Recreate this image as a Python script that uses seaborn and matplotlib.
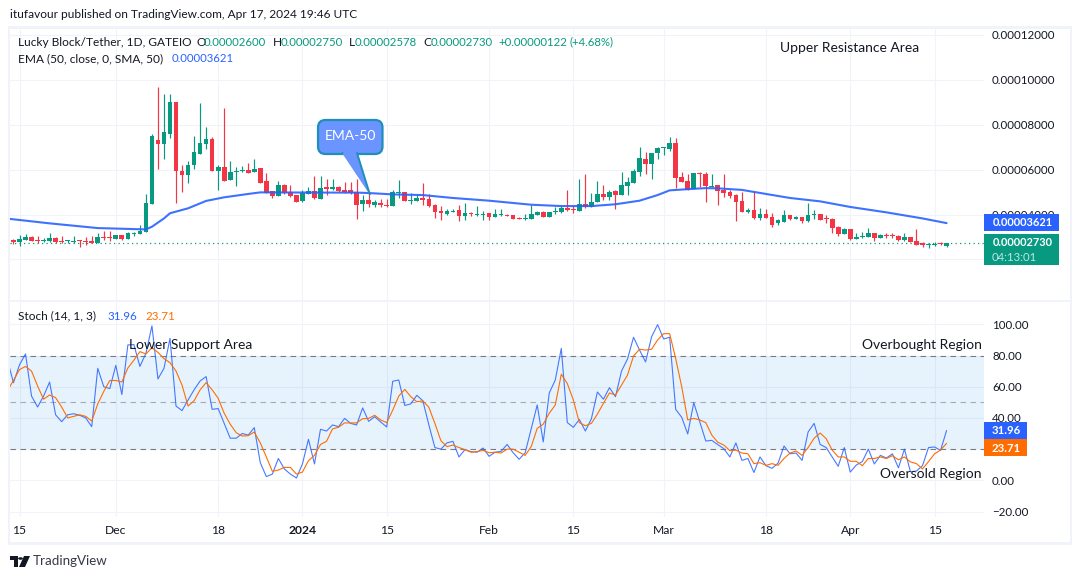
import matplotlib
matplotlib.use("Agg")
import matplotlib.dates as mdates
import matplotlib.pyplot as plt
import pandas as pd
import seaborn as sns
from matplotlib.patches import Circle, FancyBboxPatch, Polygon, Rectangle

W, H = 1080, 579
GREEN = "#089981"
RED = "#F23645"
BLUE = "#2962FF"
ORANGE = "#FF6D00"
GRID = "#F0F3FA"
TEXT = "#131722"

# prices in units of 0.00001, one row per day from 14 Nov 2023
opens = [
    2.88, 2.79, 2.88, 3.00, 2.87, 2.84, 2.84, 2.96, 2.82, 2.81,
    2.79, 2.84, 2.82, 2.82, 2.75, 3.00, 2.97, 2.91, 3.09, 2.91,
    3.13, 3.13, 3.24, 4.47, 7.32, 7.16, 7.59, 9.02, 5.94, 5.76,
    6.21, 6.70, 7.15, 7.37, 5.94, 6.12, 5.54, 5.91, 5.94, 5.99,
    5.91, 6.08, 5.50, 5.05, 4.83, 5.32, 5.01, 4.87, 4.61, 4.93,
    5.05, 4.69, 5.23, 5.14, 5.23, 5.10, 5.10, 5.01, 4.47, 4.65,
    4.43, 4.52, 4.43, 4.38, 4.96, 5.01, 4.62, 4.60, 4.74, 4.69,
    4.43, 4.16, 4.03, 4.13, 4.20, 3.94, 4.07, 3.98, 3.98, 4.07,
    3.89, 3.98, 4.00, 3.98, 3.86, 3.82, 3.80, 3.98, 4.11, 3.89,
    4.11, 4.11, 4.29, 4.26, 4.16, 4.47, 4.34, 4.56, 4.92, 4.78,
    5.05, 4.87, 5.27, 5.41, 5.90, 6.48, 6.25, 6.74, 6.95, 6.92,
    7.19, 5.67, 5.50, 5.14, 5.85, 5.81, 5.23, 5.32, 5.10, 5.01,
    4.87, 4.60, 4.13, 4.20, 3.85, 4.03, 3.88, 3.62, 3.67, 3.98,
    3.82, 3.89, 3.71, 3.97, 4.03, 3.85, 3.80, 3.45, 3.13, 3.36,
    2.91, 3.00, 3.00, 3.18, 2.96, 3.09, 3.09, 3.05, 2.87, 3.00,
    2.82, 2.73, 2.63, 2.64, 2.70, 2.60,
]
highs = [
    2.93, 3.09, 3.12, 3.05, 3.05, 2.96, 3.18, 2.99, 3.05, 2.87,
    3.05, 2.87, 2.99, 3.05, 3.17, 3.27, 3.25, 3.09, 3.10, 3.22,
    3.21, 3.52, 4.92, 7.59, 9.70, 9.37, 9.37, 9.02, 6.21, 6.37,
    7.50, 8.97, 7.90, 7.46, 6.21, 8.75, 6.37, 6.13, 6.16, 6.30,
    6.48, 6.08, 5.85, 5.05, 5.50, 5.36, 5.32, 4.87, 5.10, 5.24,
    5.72, 5.72, 5.59, 5.59, 5.27, 5.47, 5.45, 5.58, 4.87, 5.01,
    4.65, 4.69, 4.69, 5.10, 5.54, 5.01, 4.95, 4.87, 5.41, 4.92,
    4.47, 4.38, 4.25, 4.25, 4.43, 4.52, 4.11, 4.38, 4.16, 4.07,
    4.25, 4.25, 4.03, 3.98, 3.89, 4.03, 4.43, 4.16, 4.16, 4.11,
    4.34, 4.38, 5.10, 4.38, 5.58, 5.81, 4.96, 5.50, 5.32, 5.10,
    5.10, 5.90, 5.69, 6.03, 7.01, 6.79, 6.74, 7.01, 7.03, 7.46,
    7.41, 5.90, 5.81, 5.85, 5.90, 5.88, 5.81, 5.32, 5.81, 5.10,
    4.92, 5.01, 4.29, 5.05, 4.29, 4.25, 4.07, 3.80, 4.20, 3.98,
    3.94, 3.89, 4.51, 4.20, 4.03, 3.98, 3.85, 3.49, 3.40, 3.36,
    3.18, 3.22, 3.40, 3.18, 3.13, 3.18, 3.18, 3.09, 3.18, 3.00,
    3.36, 2.76, 2.73, 2.78, 2.78, 2.75,
]
lows = [
    2.69, 2.62, 2.85, 2.81, 2.75, 2.78, 2.79, 2.75, 2.75, 2.75,
    2.75, 2.57, 2.66, 2.72, 2.75, 2.87, 2.84, 2.91, 2.88, 2.91,
    3.05, 3.13, 3.24, 4.47, 6.03, 6.48, 7.41, 4.53, 5.01, 5.41,
    6.03, 6.70, 6.92, 5.94, 5.10, 5.50, 5.54, 5.27, 5.90, 5.85,
    5.91, 5.41, 4.96, 4.74, 4.83, 4.92, 4.80, 4.56, 4.56, 4.93,
    4.69, 4.69, 4.87, 5.10, 5.01, 4.96, 4.92, 3.82, 4.16, 4.34,
    4.34, 4.35, 4.34, 4.38, 4.74, 4.60, 4.47, 4.60, 4.43, 4.34,
    3.85, 3.76, 3.97, 4.11, 3.71, 3.76, 3.94, 3.94, 3.76, 3.76,
    3.89, 3.94, 3.94, 3.80, 3.79, 3.76, 3.80, 3.98, 3.89, 3.89,
    4.03, 4.07, 4.16, 4.07, 4.16, 4.29, 4.34, 4.56, 4.65, 4.65,
    4.25, 4.87, 4.87, 5.41, 5.72, 5.81, 5.58, 6.48, 6.65, 6.83,
    5.18, 5.45, 5.10, 5.14, 5.23, 4.56, 5.23, 4.43, 4.78, 4.74,
    3.71, 4.11, 4.07, 3.80, 3.76, 3.85, 3.45, 3.54, 3.67, 3.76,
    3.80, 3.62, 3.67, 3.79, 3.76, 3.62, 3.18, 3.05, 3.13, 2.87,
    2.91, 2.96, 3.00, 2.82, 2.96, 2.96, 2.96, 2.82, 2.82, 2.78,
    2.64, 2.55, 2.51, 2.58, 2.64, 2.578,
]
closes = [
    2.79, 2.91, 3.00, 2.84, 2.84, 2.87, 2.96, 2.79, 2.79, 2.84,
    2.82, 2.81, 2.79, 2.75, 3.00, 2.96, 2.94, 3.09, 2.91, 3.18,
    3.18, 3.27, 4.52, 7.50, 7.16, 7.68, 9.02, 5.94, 5.76, 6.21,
    6.79, 7.19, 7.37, 5.94, 6.12, 5.50, 5.90, 5.94, 5.99, 5.85,
    6.03, 5.41, 4.96, 4.84, 5.32, 4.96, 4.83, 4.56, 4.96, 5.05,
    4.74, 5.18, 5.14, 5.23, 5.05, 5.01, 4.96, 4.43, 4.65, 4.47,
    4.56, 4.43, 4.38, 5.01, 5.01, 4.60, 4.65, 4.74, 4.65, 4.38,
    4.11, 4.07, 4.16, 4.17, 3.94, 4.07, 4.03, 4.03, 4.03, 3.89,
    4.03, 4.03, 3.95, 3.80, 3.82, 3.86, 4.03, 4.11, 3.89, 4.11,
    4.16, 4.29, 4.20, 4.22, 4.47, 4.34, 4.56, 4.92, 4.78, 5.01,
    4.87, 5.32, 5.45, 5.94, 6.52, 6.25, 6.74, 6.97, 6.99, 7.19,
    5.63, 5.45, 5.10, 5.85, 5.81, 5.27, 5.27, 5.05, 4.96, 4.83,
    4.56, 4.11, 4.20, 3.85, 4.03, 3.85, 3.54, 3.74, 3.98, 3.80,
    3.88, 3.71, 3.98, 4.03, 3.76, 3.80, 3.40, 3.13, 3.36, 2.91,
    3.00, 3.05, 3.18, 2.96, 3.09, 3.05, 3.05, 2.87, 3.00, 2.78,
    2.64, 2.63, 2.69, 2.69, 2.67, 2.73,
]

ema_dates = [
    "2023-11-13", "2023-11-20", "2023-11-28", "2023-12-06", "2023-12-07", "2023-12-09",
    "2023-12-10", "2023-12-13", "2023-12-16", "2023-12-19", "2023-12-23", "2023-12-25",
    "2024-01-04", "2024-01-10", "2024-01-12", "2024-01-16", "2024-01-21", "2024-01-26",
    "2024-02-01", "2024-02-08", "2024-02-13", "2024-02-18", "2024-02-22", "2024-02-26",
    "2024-02-29", "2024-03-02", "2024-03-06", "2024-03-08", "2024-03-10", "2024-03-14",
    "2024-03-18", "2024-03-22", "2024-03-27", "2024-04-01", "2024-04-07", "2024-04-13",
    "2024-04-17",
]
ema_values = [
    3.82, 3.61, 3.40, 3.34, 3.46, 3.83,
    4.06, 4.28, 4.61, 4.77, 4.92, 4.99,
    4.98, 4.98, 4.96, 4.90, 4.87, 4.74,
    4.62, 4.44, 4.38, 4.38, 4.46, 4.62,
    4.87, 5.08, 5.15, 5.18, 5.17, 5.10,
    4.92, 4.74, 4.59, 4.34, 4.10, 3.83,
    3.621,
]

# stochastic, one row per day from 13 Nov 2023
stoch_k = [
    77, 62.6, 74, 81, 54, 47, 54, 63, 42, 37.6,
    42, 42.7, 41.7, 40, 34.4, 71.8, 60, 58.8, 73.7, 55,
    86.8, 87, 73, 81.4, 99, 65, 71.8, 91, 47.6, 44.7,
    51.5, 58, 63.7, 66.5, 45.5, 46, 36.5, 27, 27, 30,
    29, 33.8, 11.3, 2.4, 4, 14, 7.3, 4, 1.5, 10.5,
    26.3, 10.5, 32.7, 31.6, 35.5, 34.4, 39.7, 36.5, 35.5, 46.4,
    37.8, 40.8, 37.4, 34.2, 63.5, 64.3, 48, 49, 54.5, 51,
    35.5, 21, 20, 24, 25, 15, 19.7, 18.4, 18, 20.7,
    15.4, 18, 18.6, 23, 17.7, 13.5, 17.7, 33, 48.3, 24.6,
    56, 64.3, 84.6, 37, 34, 39, 31.6, 39.5, 56.6, 52,
    59.4, 53.6, 70, 77.8, 91.7, 83.5, 75.9, 92, 99.8, 90.6,
    91.7, 45.5, 40.4, 29.7, 49.8, 37.6, 25.2, 25.6, 22.9, 20.3,
    15, 24, 12.8, 14, 5, 15, 9.4, 7.7, 11, 22,
    17, 17.5, 12.8, 31, 36.5, 23, 21, 15, 9, 21,
    5.3, 9.8, 12, 20, 10.5, 16, 14.3, 17, 8, 20,
    5.5, 6, 9.4, 21, 21.4, 19.2, 31.96,
]
stoch_d = [
    57.5, 64, 71, 73, 70, 60.5, 52, 54.7, 53, 47,
    40, 41, 42, 41, 38, 49, 57, 64, 64, 63,
    72, 77, 82.5, 81, 85, 82, 78, 75.4, 70, 61,
    47.6, 51, 58, 62.6, 58, 52.6, 43, 36, 30.5, 28.4,
    28.6, 31, 24, 15, 5.8, 6.6, 8.3, 8.3, 4, 5.3,
    12.6, 16, 23, 25, 33, 34, 36.8, 36.8, 36.8, 39.5,
    39.7, 41.7, 38.7, 37, 45, 54, 58.3, 53.6, 50.4, 50.9,
    46.8, 36.5, 25.4, 21.6, 22.6, 21, 19.7, 18, 18.4, 19.2,
    17.7, 18, 17.5, 20, 20, 18, 16, 21.6, 33.3, 36,
    43, 48.3, 68, 62, 51.5, 37, 35, 36.5, 42.5, 49.4,
    56, 54.7, 61, 67.5, 79.7, 84, 83.5, 84, 90, 94,
    94, 78, 60, 38.7, 39.7, 38.7, 37, 29, 24.4, 22.6,
    19, 19.4, 17.5, 17, 10.7, 11.3, 9.6, 10.7, 9.6, 14,
    17.5, 18.8, 16, 21, 27, 30.3, 26.7, 19.4, 15, 15,
    12.2, 12.2, 9.4, 14, 14, 15, 14, 15.8, 13.2, 15,
    11.8, 10.7, 7.3, 12, 17, 19.4, 23.71,
]

price_ticks = [2, 4, 6, 8, 10, 12]
stoch_ticks = [-20, 0, 20, 40, 60, 80, 100]
time_ticks = ["2023-11-15", "2023-12-01", "2023-12-18", "2024-01-01", "2024-01-15", "2024-02-01",
              "2024-02-15", "2024-03-01", "2024-03-18", "2024-04-01", "2024-04-15"]
time_labels = ["15", "Dec", "18", "2024", "15", "Feb", "15", "Mar", "18", "Apr", "15"]

candles = pd.DataFrame({
    "date": pd.date_range("2023-11-14", periods=len(opens)),
    "open": opens, "high": highs, "low": lows, "close": closes,
})
candles["color"] = [GREEN if c >= o else RED for o, c in zip(opens, closes)]
ema = pd.DataFrame({"date": pd.to_datetime(ema_dates), "ema": ema_values})
stoch = pd.DataFrame({
    "date": pd.date_range("2023-11-13", periods=len(stoch_k)),
    "k": stoch_k, "d": stoch_d,
})


def px_rect(left, top, right, bottom):
    return [left / W, 1 - bottom / H, (right - left) / W, (bottom - top) / H]


def label(x, y, text, color=TEXT, size=8.55, ha="left", **kwargs):
    fig.text(x / W, 1 - y / H, text, color=color, fontsize=size, ha=ha, va="center", **kwargs)


def box(left, top, right, bottom, color, zorder=1.5):
    fig.add_artist(Rectangle((left / W, 1 - bottom / H), (right - left) / W, (bottom - top) / H,
                             transform=fig.transFigure, facecolor=color, edgecolor="none", zorder=zorder))


sns.set_theme(style="white")
plt.rcParams["font.family"] = ["Lato", "DejaVu Sans"]

fig = plt.figure(figsize=(W / 100, H / 100), dpi=100, facecolor="white")
ax_price = fig.add_axes(px_rect(10, 29, 984, 300))
ax_stoch = fig.add_axes(px_rect(10, 302, 984, 517))

x_left = mdates.date2num(pd.Timestamp("2023-11-15")) - 9.5 / 6.02
x_right = mdates.date2num(pd.Timestamp("2023-11-15")) + 964.5 / 6.02

# candles
ax_price.vlines(candles["date"], candles["low"], candles["high"], colors=candles["color"],
                linewidth=0.85, zorder=3)
ax_price.bar(candles["date"], (candles["close"] - candles["open"]).abs().clip(lower=0.05),
             bottom=candles[["open", "close"]].min(axis=1), width=0.78,
             color=candles["color"], linewidth=0, zorder=4)
sns.lineplot(data=ema, x="date", y="ema", color=BLUE, linewidth=1.5, errorbar=None,
             ax=ax_price, zorder=5, legend=False, alpha=0.9)
ax_price.axhline(closes[-1], color=GREEN, linewidth=0.9, linestyle=(0, (1, 2.6)), zorder=2)

# stochastic
ax_stoch.axhspan(20, 80, color="#2196F3", alpha=0.11, linewidth=0, zorder=1)
ax_stoch.axhline(80, color="#787B86", linewidth=0.8, linestyle=(0, (5, 4)), zorder=2)
ax_stoch.axhline(50, color="#787B86", alpha=0.6, linewidth=0.8, linestyle=(0, (5, 4)), zorder=2)
ax_stoch.axhline(20, color="#787B86", linewidth=0.8, linestyle=(0, (5, 4)), zorder=2)
sns.lineplot(data=stoch, x="date", y="k", color=BLUE, linewidth=0.8, errorbar=None,
             ax=ax_stoch, zorder=4, alpha=0.85, legend=False)
sns.lineplot(data=stoch, x="date", y="d", color=ORANGE, linewidth=0.8, errorbar=None,
             ax=ax_stoch, zorder=5, legend=False)

ax_price.set_ylim(0.196, 12.267)
ax_stoch.set_ylim(-23.5, 114.3)
ax_price.set_yticks(price_ticks)
ax_price.set_yticklabels([f"{t * 1e-5:.8f}" for t in price_ticks])
ax_stoch.set_yticks(stoch_ticks)
ax_stoch.set_yticklabels([f"{t:.2f}".replace("-", "\u2212") for t in stoch_ticks])

for ax in (ax_price, ax_stoch):
    ax.set_xlim(x_left, x_right)
    ax.set_xticks(pd.to_datetime(time_ticks))
    ax.yaxis.tick_right()
    ax.tick_params(axis="y", length=0, pad=5.8, labelsize=8.3, labelcolor=TEXT)
    ax.tick_params(axis="x", length=0, pad=6, labelsize=8.7, labelcolor=TEXT)
    ax.grid(True, color=GRID, linewidth=0.75, zorder=0)
    ax.set_axisbelow(True)
    ax.set_xlabel("")
    ax.set_ylabel("")
    sns.despine(ax=ax, left=True, right=True, top=True, bottom=True)

ax_price.set_xticklabels([])
ax_stoch.set_xticklabels(time_labels)
for tick in ax_stoch.get_xticklabels():
    if tick.get_text() == "2024":
        tick.set_fontweight("bold")

# frame around the chart
for rect in [(8, 26, 1072, 29), (8, 300, 1072, 302), (8, 542, 1072, 545), (8, 26, 10, 545), (1070, 26, 1072, 545)]:
    box(*rect, GRID, zorder=1)

# title and legends
label(10, 15, "itufavour published on TradingView.com, Apr 17, 2024 19:46 UTC")
label(18, 42, "Lucky Block/Tether, 1D, GATEIO")
for x_prefix, prefix, x_value, value in [(196.5, "O", 204, "0.00002600"), (272.5, "H", 281, "0.00002750"),
                                         (349, "L", 354.5, "0.00002578"), (423, "C", 430.5, "0.00002730")]:
    label(x_prefix, 42, prefix)
    label(x_value, 42, value, color=GREEN, size=8.2)
label(498, 42, "+0.00000122", color=GREEN, size=8.2)
label(569, 42, "(+4.68%)", color=GREEN, size=8.2)
label(18, 59, "EMA (50, close, 0, SMA, 50)")
label(172, 59, "0.00003621", color=BLUE, size=8.2)
label(18, 316, "Stoch (14, 1, 3)")
label(108, 316, "31.96", color=BLUE, size=8.4)
label(145, 316, "23.71", color=ORANGE, size=8.4)

# drawn notes
label(780, 48, "Upper Resistance Area", size=10)
label(129, 345, "Lower Support Area", size=10)
label(982, 345, "Overbought Region", size=10, ha="right")
label(982, 474, "Oversold Region", size=10, ha="right")

# EMA-50 callout
tail = [(342, 153), (357, 153), (370, 195)]
fig.add_artist(FancyBboxPatch((318 / W, 1 - 154 / H), 64.5 / W, 34 / H,
                              boxstyle="round,pad=0,rounding_size=0.007", transform=fig.transFigure,
                              facecolor="#6A94FF", edgecolor="#1D8FB8", linewidth=1.6, zorder=2,
                              mutation_aspect=W / H))
fig.add_artist(Polygon([(x / W, 1 - y / H) for x, y in tail], closed=False, transform=fig.transFigure,
                       facecolor="#6A94FF", edgecolor="#1D8FB8", linewidth=1.4, zorder=2.1))
fig.add_artist(Polygon([(x / W, 1 - y / H) for x, y in [(343, 150), (356, 150), (356.5, 154.5), (343.5, 154.5)]],
                       transform=fig.transFigure, facecolor="#6A94FF", edgecolor="none", zorder=2.2))
label(350, 136, "EMA-50", color="white", size=10, ha="center", zorder=3)

# last value tags
box(984, 214, 1059, 231, BLUE, zorder=2)
label(1022.5, 222.5, "0.00003621", color="white", ha="center", fontweight="bold", size=7.9)
box(984, 234, 1059, 265, GREEN, zorder=2)
label(1022.5, 242, "0.00002730", color="white", ha="center", fontweight="bold", size=7.9)
label(1014, 257.5, "04:13:01", color="#BFE5DE", ha="center", size=8.2)
box(984, 422, 1027, 439, BLUE, zorder=2)
label(1006, 430, "31.96", color="white", ha="center", fontweight="bold", size=8.2)
box(984, 439, 1027, 456, ORANGE, zorder=2)
label(1006, 448, "23.71", color="white", ha="center", fontweight="bold", size=8.2)

# footer logo
box(10, 556, 18, 567, TEXT, zorder=2)
fig.add_artist(Circle((20.5 / W, 1 - 558.5 / H), 0.0022, transform=fig.transFigure, facecolor=TEXT,
                      edgecolor="none", zorder=2))
fig.add_artist(Polygon([(x / W, 1 - y / H) for x, y in [(24, 556), (30, 556), (25, 567), (19, 567)]],
                       transform=fig.transFigure, facecolor=TEXT, edgecolor="none", zorder=2))
box(10, 559.5, 14, 567, "white", zorder=2.1)
label(33, 561, "TradingView", color="#363A45", size=9.6)

fig.savefig("out.png", dpi=100, facecolor="white")
plt.close(fig)
